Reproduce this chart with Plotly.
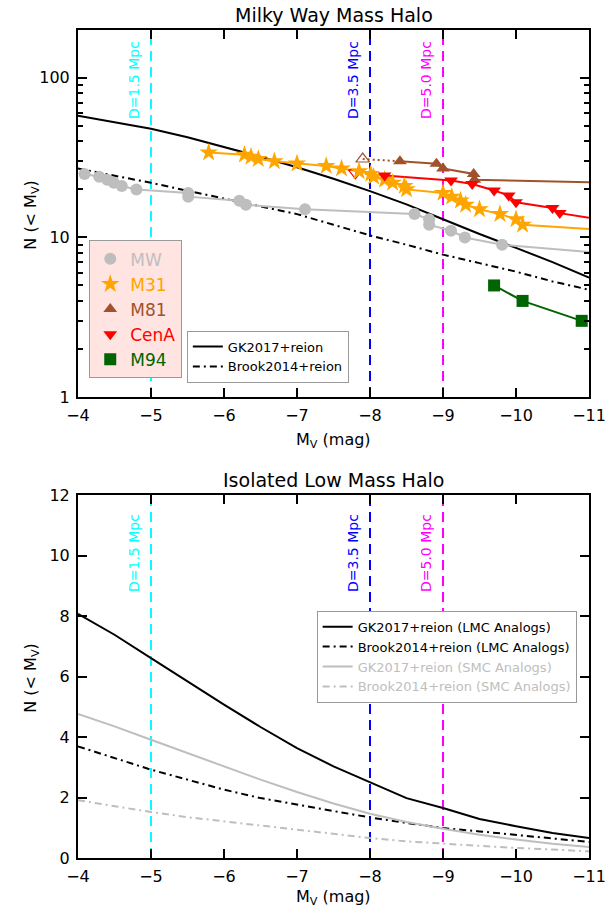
import plotly.graph_objects as go

# ---------------- data ----------------
# model curves (Milky Way mass halo)
mv_grid = [-4.0, -4.5, -5.0, -5.5, -6.0, -6.5, -7.0, -7.5, -8.0, -8.5, -9.0, -9.5, -10.0, -10.5, -11.0]
gk_mw = [58.0, 53.0, 48.0, 42.5, 37.0, 32.0, 27.5, 23.3, 19.5, 16.1, 13.0, 10.5, 8.6, 7.0, 5.6]
brook_mw = [27.0, 24.4, 22.0, 19.6, 17.5, 15.6, 14.0, 12.0, 10.3, 9.0, 7.8, 6.9, 6.1, 5.3, 4.7]

# observed satellite luminosity functions
mw_mv = [-4.09, -4.29, -4.40, -4.49, -4.60, -4.80, -5.51, -5.51, -6.21, -6.30, -7.11,
         -8.61, -8.81, -8.81, -9.11, -9.30, -9.81]
mw_n = [25, 24, 23, 22, 21, 20, 19, 18, 17, 16, 15, 14, 13, 12, 11, 10, 9]
mw_edge_n = 8.1

m31_mv = [-5.79, -6.28, -6.37, -6.47, -6.69, -7.00, -7.40, -7.61, -7.85, -8.01, -8.05, -8.20,
          -8.31, -8.47, -8.50, -9.00, -9.12, -9.24, -9.31, -9.50, -9.78, -10.00, -10.09]
m31_n = [34, 33, 32, 31, 30, 29, 28, 27, 26, 25, 24, 23, 22, 21, 20, 19, 18, 17, 16, 15, 14, 13, 12]
m31_edge_n = 11.3

m81_open_mv = [-7.90]
m81_open_n = [31.0]
m81_mv = [-8.41, -8.91, -9.00, -9.42, -9.43]
m81_n = [30.0, 29.0, 27.0, 25.0, 23.0]
m81_edge_n = 22.2

cena_open_mv = [-7.80]
cena_open_n = [25.4]
cena_mv = [-8.20, -9.11, -9.40, -9.70, -9.90, -10.00, -10.50, -10.60]
cena_n = [24.4, 22.7, 21.6, 19.7, 18.3, 16.6, 15.3, 14.2]
cena_edge_n = 13.3

m94_mv = [-9.70, -10.09, -10.90]
m94_n = [5, 4, 3]

# isolated low mass halo curves
gk_lmc = [8.07, 7.38, 6.61, 5.84, 5.07, 4.33, 3.63, 3.03, 2.50, 1.98, 1.65, 1.29, 1.05, 0.83, 0.66]
brook_lmc = [3.69, 3.30, 2.92, 2.59, 2.26, 1.98, 1.76, 1.54, 1.34, 1.16, 0.99, 0.88, 0.77, 0.66, 0.53]
gk_smc = [4.76, 4.35, 3.91, 3.47, 3.03, 2.59, 2.18, 1.80, 1.46, 1.19, 0.97, 0.77, 0.61, 0.47, 0.36]
brook_smc = [1.91, 1.71, 1.52, 1.35, 1.21, 1.07, 0.94, 0.79, 0.66, 0.55, 0.47, 0.41, 0.33, 0.28, 0.22]

# distance limits
dist_mv = [-5, -8, -9]
dist_labels = ["D=1.5 Mpc", "D=3.5 Mpc", "D=5.0 Mpc"]
dist_colors = ["#00FFFF", "#0000FF", "#FF00FF"]

x_ticks = [-4, -5, -6, -7, -8, -9, -10, -11]
x_range = [-4, -11]

# ---------------- styling ----------------
FONT = "DejaVu Sans"
GRAY = "#BEBEBE"
ORANGE = "#FFA500"
BROWN = "#A0522D"
RED = "#FF0000"
GREEN = "#006400"
DASHDOT = "7px,4px,2px,4px"

fig = go.Figure()
T = dict(xaxis="x", yaxis="y")
B = dict(xaxis="x2", yaxis="y2")

# model lines (top)
fig.add_trace(go.Scatter(x=mv_grid, y=gk_mw, mode="lines", line=dict(color="black", width=2),
                         name="GK2017+reion", legend="legend2", legendgroup="g1", **T))
fig.add_trace(go.Scatter(x=mv_grid, y=brook_mw, mode="lines",
                         line=dict(color="black", width=2, dash=DASHDOT),
                         name="Brook2014+reion", legend="legend2", legendgroup="g2", **T))

# observed lines
fig.add_trace(go.Scatter(x=mw_mv + [-11.0], y=mw_n + [mw_edge_n], mode="lines",
                         line=dict(color=GRAY, width=2), showlegend=False, **T))
fig.add_trace(go.Scatter(x=m31_mv + [-11.0], y=m31_n + [m31_edge_n], mode="lines",
                         line=dict(color=ORANGE, width=2), showlegend=False, **T))
fig.add_trace(go.Scatter(x=m81_open_mv + m81_mv[:1], y=m81_open_n + m81_n[:1], mode="lines",
                         line=dict(color=BROWN, width=2, dash="2px,3px"), showlegend=False, **T))
fig.add_trace(go.Scatter(x=m81_mv + [-11.0], y=m81_n + [m81_edge_n], mode="lines",
                         line=dict(color=BROWN, width=2), showlegend=False, **T))
fig.add_trace(go.Scatter(x=cena_open_mv + cena_mv[:1], y=cena_open_n + cena_n[:1], mode="lines",
                         line=dict(color=RED, width=2, dash="2px,3px"), showlegend=False, **T))
fig.add_trace(go.Scatter(x=cena_mv + [-11.0], y=cena_n + [cena_edge_n], mode="lines",
                         line=dict(color=RED, width=2), showlegend=False, **T))
fig.add_trace(go.Scatter(x=m94_mv, y=m94_n, mode="lines",
                         line=dict(color=GREEN, width=2), showlegend=False, **T))

# open markers
fig.add_trace(go.Scatter(x=m81_open_mv, y=m81_open_n, mode="markers",
                         marker=dict(symbol="triangle-up-open", size=12, color=BROWN, line=dict(width=1.2)),
                         showlegend=False, **T))
fig.add_trace(go.Scatter(x=cena_open_mv, y=cena_open_n, mode="markers",
                         marker=dict(symbol="triangle-down-open", size=12, color=RED, line=dict(width=1.2)),
                         showlegend=False, **T))

# filled markers with legend
def lab(txt, col):
    return f"<span style='color:{col}'>{txt}</span>"

fig.add_trace(go.Scatter(x=mw_mv, y=mw_n, mode="markers",
                         marker=dict(symbol="circle", size=12, color=GRAY),
                         name=lab("MW", GRAY), legend="legend", **T))
fig.add_trace(go.Scatter(x=m31_mv, y=m31_n, mode="markers",
                         marker=dict(symbol="star", size=14, color=ORANGE),
                         name=lab("M31", ORANGE), legend="legend", **T))
fig.add_trace(go.Scatter(x=m81_mv, y=m81_n, mode="markers",
                         marker=dict(symbol="triangle-up", size=12, color=BROWN),
                         name=lab("M81", BROWN), legend="legend", **T))
fig.add_trace(go.Scatter(x=cena_mv, y=cena_n, mode="markers",
                         marker=dict(symbol="triangle-down", size=12, color=RED),
                         name=lab("CenA", RED), legend="legend", **T))
fig.add_trace(go.Scatter(x=m94_mv, y=m94_n, mode="markers",
                         marker=dict(symbol="square", size=12, color=GREEN),
                         name=lab("M94", GREEN), legend="legend", **T))

# bottom panel curves
fig.add_trace(go.Scatter(x=mv_grid, y=gk_lmc, mode="lines", line=dict(color="black", width=2),
                         name="GK2017+reion (LMC Analogs)", legend="legend3", **B))
fig.add_trace(go.Scatter(x=mv_grid, y=brook_lmc, mode="lines",
                         line=dict(color="black", width=2, dash=DASHDOT),
                         name="Brook2014+reion (LMC Analogs)", legend="legend3", **B))
fig.add_trace(go.Scatter(x=mv_grid, y=gk_smc, mode="lines", line=dict(color=GRAY, width=2),
                         name=lab("GK2017+reion (SMC Analogs)", GRAY), legend="legend3", **B))
fig.add_trace(go.Scatter(x=mv_grid, y=brook_smc, mode="lines",
                         line=dict(color=GRAY, width=2, dash=DASHDOT),
                         name=lab("Brook2014+reion (SMC Analogs)", GRAY), legend="legend3", **B))

# distance lines and labels
shapes = []
annotations = []
for mv, txt, col in zip(dist_mv, dist_labels, dist_colors):
    for xr, yr, ysh in (("x", "y domain", -9), ("x2", "y2 domain", -17)):
        shapes.append(dict(type="line", xref=xr, yref=yr, x0=mv, x1=mv, y0=0, y1=1,
                           line=dict(color=col, width=2, dash="10px,6px"), layer="below"))
        annotations.append(dict(xref=xr, yref=yr, x=mv, y=1, xanchor="center", yanchor="top",
                                xshift=-17, yshift=ysh, text=txt, textangle=-90, showarrow=False,
                                font=dict(family=FONT, size=14, color=col)))

# titles and axis titles
TOP_DOM = [0.5568, 1.0]
BOT_DOM = [0.0, 0.4384]
annotations += [
    dict(xref="paper", yref="paper", x=0.5, y=1.018, text="Milky Way Mass Halo", showarrow=False,
         xanchor="center", yanchor="middle", font=dict(family=FONT, size=19, color="black")),
    dict(xref="paper", yref="paper", x=0.5, y=0.4565, text="Isolated Low Mass Halo", showarrow=False,
         xanchor="center", yanchor="middle", font=dict(family=FONT, size=19, color="black")),
    dict(xref="paper", yref="paper", x=0.5, y=0.5048, text="M<sub>V</sub> (mag)", showarrow=False,
         xanchor="center", yanchor="middle", font=dict(family=FONT, size=16, color="black")),
    dict(xref="paper", yref="paper", x=0.5, y=-0.048, text="M<sub>V</sub> (mag)", showarrow=False,
         xanchor="center", yanchor="middle", font=dict(family=FONT, size=16, color="black")),
    dict(xref="paper", yref="paper", x=-0.0906, y=0.7766, text="N (< M<sub>V</sub>)", showarrow=False,
         textangle=-90, xanchor="center", yanchor="middle", font=dict(family=FONT, size=16, color="black")),
    dict(xref="paper", yref="paper", x=-0.0906, y=0.2174, text="N (< M<sub>V</sub>)", showarrow=False,
         textangle=-90, xanchor="center", yanchor="middle", font=dict(family=FONT, size=16, color="black")),
]

axis_common = dict(showline=True, linecolor="black", linewidth=2, mirror="allticks",
                   ticks="inside", tickcolor="black", tickwidth=2, ticklen=9,
                   showgrid=False, zeroline=False, automargin=False,
                   tickfont=dict(family=FONT, size=16, color="black"))

xcommon = dict(axis_common, range=x_range, tickmode="array", tickvals=x_ticks, ticklabelstandoff=3)

fig.update_layout(
    width=606, height=912, autosize=False,
    margin=dict(l=78, r=17, t=30, b=54),
    paper_bgcolor="white", plot_bgcolor="white",
    font=dict(family=FONT, color="black"),
    xaxis=dict(xcommon, domain=[0, 1], anchor="y"),
    yaxis=dict(axis_common, type="log", range=[0, 2.30], domain=TOP_DOM, anchor="x",
               tickmode="array", tickvals=[1, 10, 100], ticktext=["1", "10", "100"],
               ticklabelstandoff=3,
               minor=dict(tickmode="array",
                          tickvals=[2, 3, 4, 5, 6, 7, 8, 9, 20, 30, 40, 50, 60, 70, 80, 90, 200],
                          ticks="inside", ticklen=5, tickwidth=1.5, tickcolor="black", showgrid=False)),
    xaxis2=dict(xcommon, domain=[0, 1], anchor="y2"),
    yaxis2=dict(axis_common, range=[0, 12], domain=BOT_DOM, anchor="x2",
                tickmode="array", tickvals=[0, 2, 4, 6, 8, 10, 12], ticklabelstandoff=3),
    showlegend=True,
    legend=dict(x=0.022, y=0.746, xanchor="left", yanchor="top", bgcolor="#FFE4E1",
                bordercolor="#999999", borderwidth=1, font=dict(family=FONT, size=17),
                traceorder="normal", tracegroupgap=2),
    legend2=dict(x=0.213, y=0.637, xanchor="left", yanchor="top", bgcolor="white",
                 bordercolor="#999999", borderwidth=1, font=dict(family=FONT, size=13),
                 traceorder="normal", tracegroupgap=4),
    legend3=dict(x=0.467, y=0.2986, xanchor="left", yanchor="top", bgcolor="white",
                 bordercolor="#999999", borderwidth=1, font=dict(family=FONT, size=13),
                 traceorder="normal"),
    shapes=shapes,
    annotations=annotations,
)

fig.write_html("out.html")
